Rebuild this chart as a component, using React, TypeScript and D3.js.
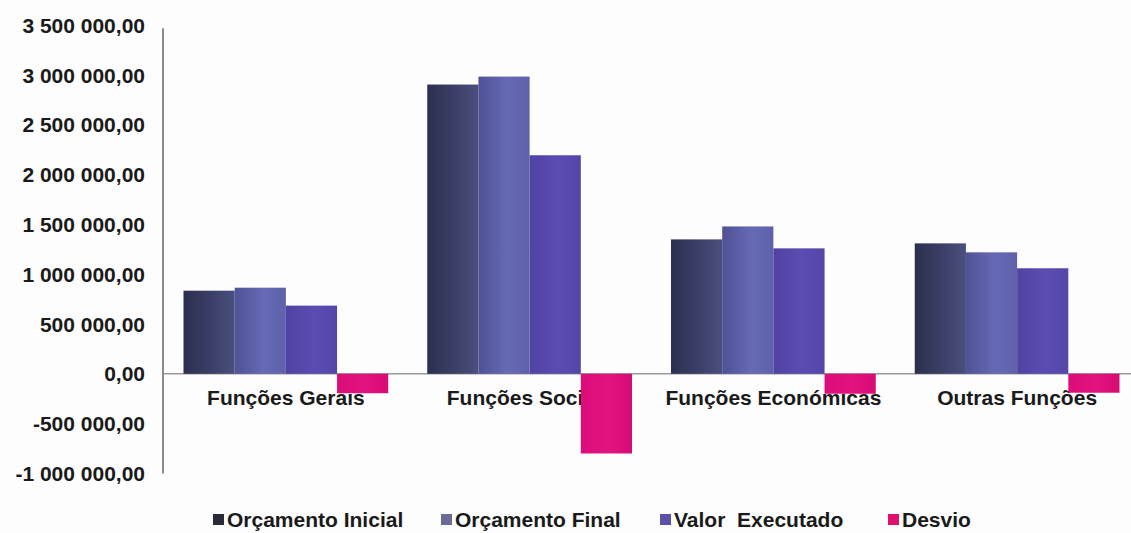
import React from "react";
import * as d3 from "d3";

const categories = ["Funções Gerais", "Funções Sociais", "Funções Económicas", "Outras Funções"];
const seriesNames = ["Orçamento Inicial", "Orçamento Final", "Valor  Executado", "Desvio"];
const orcamentoInicial = [835000, 2905000, 1350000, 1310000];
const orcamentoFinal = [865000, 2985000, 1480000, 1220000];
const valorExecutado = [685000, 2195000, 1260000, 1060000];
const desvio = [-195000, -800000, -200000, -190000];
const yTicks = [3500000, 3000000, 2500000, 2000000, 1500000, 1000000, 500000, 0, -500000, -1000000];

const seriesValues = [orcamentoInicial, orcamentoFinal, valorExecutado, desvio];
const gradStops = [
  ["#2b2f4e", "#3c4068", "#4a4f7e"],
  ["#4f5294", "#6669b4", "#5f62aa"],
  ["#5043a2", "#5a4cb2", "#5446a8"],
  ["#dc0c7a", "#e2137f", "#d80a76"],
];
const legendColors = ["#2a2b38", "#6b6b98", "#5a52a8", "#e0106e"];

function fmt(v: number): string {
  const neg = v < 0;
  const a = Math.abs(v);
  const intPart = Math.floor(a).toString().replace(/\B(?=(\d{3})+(?!\d))/g, " ");
  return (neg ? "-" : "") + intPart + ",00";
}

export default function App() {
  const W = 1131, H = 533;
  const y = d3.scaleLinear().domain([-1000000, 3500000]).range([473.4, 25.3]);
  const x0 = d3.scaleBand<string>().domain(categories).range([164, 1139]).paddingInner(0.16).paddingOuter(0.08);
  const x1 = d3.scaleBand<number>().domain([0, 1, 2, 3]).range([0, x0.bandwidth()]).padding(0);
  const font = "'Liberation Sans', Arial, sans-serif";
  const legendX = [213, 441, 660, 888];

  return (
    <svg width={W} height={H} style={{ position: "absolute", left: 0, top: 0, background: "#fdfdfd" }}>
      <defs>
        {gradStops.map((s, i) => (
          <linearGradient key={i} id={`g${i}`} x1="0" y1="0" x2="1" y2="0">
            <stop offset="0%" stopColor={s[0]} />
            <stop offset="55%" stopColor={s[1]} />
            <stop offset="100%" stopColor={s[2]} />
          </linearGradient>
        ))}
      </defs>
      {/* y tick labels */}
      {yTicks.map((t) => (
        <text key={t} x={145} y={y(t) + 7.5} textAnchor="end" fontFamily={font} fontWeight="bold" fontSize={21} fill="#1a1a1a">
          {fmt(t)}
        </text>
      ))}
      {/* axis */}
      <line x1={163} x2={163} y1={y(3500000) + 3} y2={y(-1000000)} stroke="#8a8a8a" strokeWidth={2} />
      <line x1={163} x2={W} y1={y(0)} y2={y(0)} stroke="#9a9a9a" strokeWidth={1.5} />
      {/* category labels */}
      {categories.map((c) => (
        <text key={c} x={x0(c)! + x0.bandwidth() / 2} y={405} textAnchor="middle" fontFamily={font} fontWeight="bold" fontSize={21} fill="#1a1a1a">
          {c}
        </text>
      ))}
      {/* bars */}
      {categories.map((c, ci) => (
        <g key={c} transform={`translate(${x0(c)},0)`}>
          {seriesValues.map((vals, si) => {
            const v = vals[ci];
            const top = y(Math.max(0, v));
            const bot = y(Math.min(0, v));
            return (
              <rect key={si} x={x1(si)} y={top} width={x1.bandwidth()} height={bot - top} fill={`url(#g${si})`} />
            );
          })}
        </g>
      ))}
      {/* legend */}
      {seriesNames.map((n, i) => (
        <g key={n}>
          <rect x={legendX[i]} y={514} width={11} height={11} fill={legendColors[i]} />
          <text x={legendX[i] + 14} y={527} fontFamily={font} fontWeight="bold" fontSize={21} fill="#1a1a1a" style={{ whiteSpace: "pre" }}>
            {n}
          </text>
        </g>
      ))}
    </svg>
  );
}
